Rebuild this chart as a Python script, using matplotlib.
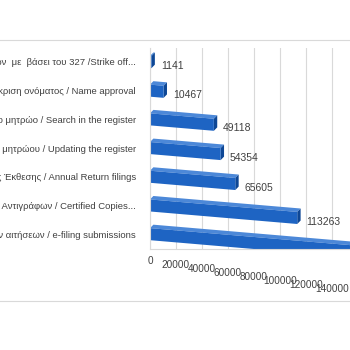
import numpy as np
import matplotlib
matplotlib.use('Agg')
import matplotlib.pyplot as plt
from matplotlib.patches import Polygon, Rectangle
from matplotlib.transforms import Affine2D
from matplotlib.lines import Line2D

plt.rcParams['font.family'] = ['Liberation Sans Narrow', 'Liberation Sans', 'DejaVu Sans']

# data
categories = [
    'Διαγραφές εταιρειών  με  βάσει του 327 /Strike off...',
    'Έγκριση ονόματος / Name approval',
    'Έρευνα στο μητρώο / Search in the register',
    'Ενημέρωση του μητρώου / Updating the register',
    'Καταχώριση Ετήσιας Έκθεσης / Annual Return filings',
    'Έκδοση Πιστοποιημένων Αντιγράφων / Certified Copies...',
    'Υποβολή ηλεκτρονικών αιτήσεων / e-filing submissions',
]
values = [1141, 10467, 49118, 54354, 65605, 113263, 170000]
xticks = [0, 20000, 40000, 60000, 80000, 100000, 120000, 140000]

# colours (Excel-like 3D blue)
front_c = '#1E64C3'
top_c = '#4C88D8'
side_c = '#0E4795'
grid_c = '#D9D9D9'
text_c = '#404040'

fig = plt.figure(figsize=(3.5, 3.5), dpi=100)
W = H = 350.0
x0_px, x_max = 150.0, 160000
px_per_unit = 1.3 / 1000
top_px, row_px = 47.6, 28.7
ax = fig.add_axes([x0_px / W, 1 - (top_px + row_px * 7) / H,
                   x_max * px_per_unit / W, row_px * 7 / H])
ax.set_xlim(0, x_max)
ax.set_ylim(len(values) - 0.5, -0.5)

# perspective-ish skew: bars slope down to the right
x0_disp = ax.transData.transform((0, 0))[0]
slope = 0.085
sk = Affine2D().translate(-x0_disp, 0).skew(0, np.arctan(-slope)).translate(x0_disp, 0)
trans = ax.transData + sk

h = 0.42
dx = 2600
dy = 0.13
for i, v in enumerate(values):
    yt = i - h / 2
    front = Rectangle((0, yt), v, h, facecolor=front_c, edgecolor='none', transform=trans)
    top = Polygon([(0, yt), (v, yt), (v + dx, yt - dy), (dx, yt - dy)],
                  closed=True, facecolor=top_c, edgecolor='none', transform=trans)
    side = Polygon([(v, yt), (v + dx, yt - dy), (v + dx, yt + h - dy), (v, yt + h)],
                   closed=True, facecolor=side_c, edgecolor='none', transform=trans)
    for p in (top, side, front):
        ax.add_patch(p)
    ax.text(v + dx + 4500, i + 0.1, str(v), transform=trans, ha='left', va='center',
            fontsize=7.5, color=text_c)

# gridlines
for t in xticks:
    ax.axvline(t, color=grid_c, lw=0.8, zorder=0)

for s in ['top', 'right']:
    ax.spines[s].set_visible(False)
ax.spines['left'].set_color(grid_c)
ax.spines['bottom'].set_color(grid_c)

ax.set_yticks(range(len(categories)))
ax.set_yticklabels(categories, fontsize=6.8, color=text_c)
ax.tick_params(axis='y', length=0, pad=10)

# stepped x tick labels
ax.set_xticks([])
for k, t in enumerate(xticks):
    ax.text(t, -0.06 - 0.02 * k, str(t), transform=ax.get_xaxis_transform(),
            ha='center', va='center', fontsize=7.2, color=text_c)

# chart area border lines
fig.add_artist(Line2D([0, 1], [1 - 40 / H, 1 - 40 / H], transform=fig.transFigure,
                      color=grid_c, lw=0.8))
fig.add_artist(Line2D([0, 1], [1 - 301 / H, 1 - 301 / H], transform=fig.transFigure,
                      color=grid_c, lw=0.8))

fig.savefig('out.png', dpi=100)
